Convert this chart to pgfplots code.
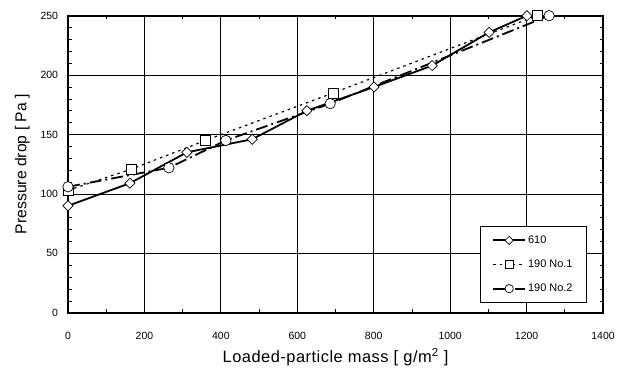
\documentclass[border=0pt]{standalone}
\usepackage{pgfplots}
\pgfplotsset{compat=1.18}
\usepackage{fontspec}
\setmainfont{Liberation Sans}
\begin{document}
\begin{tikzpicture}[x=1bp,y=1bp]
\begin{axis}[
  scale only axis,
  width=535bp, height=297bp,
  xmin=0, xmax=1400, ymin=0, ymax=250,
  xtick={0,200,...,1400}, ytick={0,50,...,250},
  minor xtick={100,300,...,1300},
  minor ytick={10,20,30,40,60,70,80,90,110,120,130,140,160,170,180,190,210,220,230,240},
  tick align=inside,
  major tick length=0pt,
  minor tick length=3.5bp,
  every minor tick/.style={black, line width=0.6bp},
  grid=major,
  major grid style={black, line width=0.8bp},
  axis line style={black, line width=1.8bp},
  /pgf/number format/assume math mode=true,
  /pgf/number format/1000 sep={},
  tick label style={font=\fontsize{10.5}{12}\selectfont, black},
  xticklabel style={yshift=-16bp},
  yticklabel style={xshift=-6.5bp},
  xlabel={Loaded-particle mass [ g/m\textsuperscript{2} ]},
  ylabel={Pressure drop [ Pa ]},
  xlabel style={font=\fontsize{16.5}{18}\selectfont\addfontfeature{LetterSpace=3}, yshift=-2bp},
  ylabel style={font=\fontsize{15.8}{18}\selectfont, yshift=4bp},
  clip=false,
  legend cell align=left,
  legend style={at={(0.970,0.034)}, anchor=south east, draw=black, line width=0.8bp,
    font=\fontsize{11}{13}\selectfont, row sep=11bp, inner xsep=12bp, inner ysep=7bp,
    /tikz/every even column/.append style={column sep=6bp}},
  legend image code/.code={
    \draw[#1] (0bp,0bp) -- (16bp,0bp) -- (32bp,0bp);
    \draw[#1, solid, every mark/.append style={scale=0.8}] plot coordinates {(16bp,0bp)};
  },
]
\addplot[black, line width=1.8bp, mark=square*, mark size=3.6bp,
  mark options={fill=white, solid, line width=0.7bp, rotate=45}]
coordinates {(0,90) (162,109) (311,135) (482,146) (625,170) (801,190) (953,208) (1102,236) (1201,250)};
\addlegendentry{610}
\addplot[black, line width=1.2bp, dash pattern=on 2.5bp off 4bp, mark=square*, mark size=5bp,
  mark options={fill=white, solid, line width=0.7bp}]
coordinates {(0,103) (167,121) (360,145) (694,185) (1227,250)};
\addlegendentry{190 No.1}
\addplot[black, line width=1.8bp, dash pattern=on 12bp off 4bp on 2bp off 4bp, mark=*, mark size=5.2bp,
  mark options={fill=white, solid, line width=0.7bp}]
coordinates {(0,106) (264,122) (413,145) (686,176) (1259,250)};
\addlegendentry{190 No.2}
\end{axis}
\path ([shift={(-68bp,-56bp)}]current axis.south west) rectangle ([shift={(29bp,15.7bp)}]current axis.north east);
\end{tikzpicture}
\end{document}
